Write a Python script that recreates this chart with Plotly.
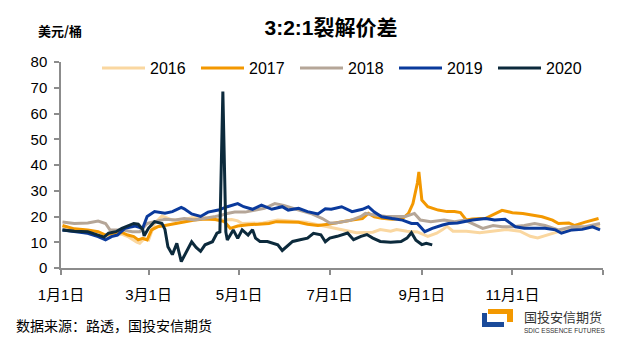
import pandas as pd
import plotly.graph_objects as go

# ---- data (day of year, value in USD/bbl) ----
days_2016 = [1, 9, 18, 25, 30, 35, 41, 45, 51, 53, 56, 59, 63, 68, 75, 81, 88, 97, 102, 108, 115, 119, 122, 129, 136, 146, 156, 165, 173, 178, 188, 199, 210, 215, 222, 226, 233, 240, 247, 253, 257, 260, 264, 273, 282, 291, 300, 309, 316, 321, 327, 336, 345, 354, 363]
vals_2016 = [16, 14.5, 13.5, 12.5, 12.2, 12.8, 13.2, 12.2, 10, 9.6, 11.4, 10.9, 17.3, 20.2, 18.6, 18.6, 19.5, 19.5, 18.8, 18.6, 18.8, 18.3, 17.3, 17.3, 17.5, 18.6, 18.3, 17.8, 16.8, 16.2, 14.8, 13.7, 13.9, 14.9, 14.3, 14.9, 14.3, 14, 12.3, 13.5, 14.9, 16.2, 14.3, 14.3, 13.7, 14.3, 14.9, 14.3, 12.3, 11.7, 12.8, 14.3, 14.9, 15.6, 16.2]

days_2017 = [1, 9, 18, 25, 30, 35, 41, 45, 49, 52, 55, 58, 61, 65, 70, 77, 83, 90, 97, 104, 110, 114, 119, 126, 133, 140, 145, 152, 160, 166, 173, 180, 189, 196, 203, 207, 211, 216, 223, 230, 234, 237, 240, 241, 243, 247, 254, 260, 265, 269, 273, 277, 286, 292, 297, 304, 311, 318, 324, 331, 335, 342, 346, 353, 357, 362]
vals_2017 = [16.5, 15.2, 14.8, 14.1, 12.8, 13.5, 13.8, 12.8, 12.2, 10.9, 11.5, 10.9, 14.8, 16, 16.5, 17.3, 18, 18.6, 19, 18.8, 18, 15.4, 16.3, 16.8, 17, 17.3, 18, 18, 17.8, 17, 16.5, 17, 18, 18.6, 19.2, 21.2, 19.9, 19.3, 18.9, 19.2, 21.2, 25, 33, 37.3, 26.4, 23.8, 22.5, 21.9, 21.9, 21.5, 18.6, 19, 19.3, 21, 22.4, 21.5, 21.2, 20.5, 19.9, 18.6, 17.3, 17.5, 16.5, 17.8, 18.4, 19.2]

days_2018 = [1, 9, 18, 25, 30, 33, 41, 48, 53, 58, 63, 70, 77, 83, 90, 97, 104, 108, 112, 117, 124, 131, 137, 144, 150, 156, 163, 169, 176, 181, 185, 190, 195, 202, 205, 212, 219, 225, 232, 238, 242, 249, 258, 265, 272, 284, 291, 297, 304, 312, 319, 326, 335, 344, 353, 363]
vals_2018 = [17.9, 17.3, 17.5, 18.2, 17.3, 14.8, 14.8, 14.1, 14.1, 17.3, 18, 18.9, 18.6, 19.2, 18.6, 19.2, 20, 20.5, 21.2, 21.7, 21.7, 22.5, 23.2, 25, 24.3, 23.2, 22, 21, 19.2, 17.5, 17.5, 18, 18.5, 20, 21.2, 20.5, 20, 20, 20, 21.2, 18.6, 18, 18.6, 18, 18.6, 15.4, 16.5, 16, 16, 16.5, 17.3, 16.5, 14.8, 16, 16, 17.3]

days_2019 = [1, 9, 18, 25, 30, 34, 38, 43, 50, 55, 58, 63, 70, 75, 81, 83, 88, 94, 99, 106, 112, 119, 123, 129, 135, 142, 149, 153, 160, 166, 173, 178, 182, 189, 196, 203, 207, 211, 216, 223, 230, 236, 240, 245, 250, 257, 261, 267, 277, 286, 292, 299, 306, 312, 319, 326, 333, 337, 344, 351, 358, 363]
vals_2019 = [14.8, 14.1, 13.5, 12.2, 10.9, 12.2, 12.8, 15.4, 16.3, 15.4, 20, 21.9, 21.3, 21.9, 23.5, 23, 21, 20, 21.7, 22.5, 23.8, 25, 23.8, 22.8, 24.4, 22.8, 23.8, 22.5, 23.2, 21.9, 21, 23, 22.8, 23.8, 21.9, 22.8, 23.8, 21.7, 19.9, 19.2, 18.6, 17.3, 17.3, 14.1, 15.4, 16.7, 17.3, 17.5, 18.6, 19.2, 18.6, 18.9, 16, 15.4, 15.4, 15.4, 14.8, 13.5, 14.8, 15, 16, 14.8]

days_2020 = [1, 9, 18, 25, 29, 32, 37, 41, 45, 49, 52, 55, 56, 59, 63, 68, 70, 72, 75, 78, 81, 85, 88, 91, 94, 97, 102, 105, 107, 109, 111, 112, 116, 119, 122, 126, 129, 131, 134, 139, 143, 146, 149, 152, 156, 161, 166, 170, 175, 178, 181, 186, 193, 197, 202, 206, 210, 215, 222, 229, 233, 236, 239, 243, 246, 250]
vals_2020 = [14.8, 14.3, 14.1, 12.8, 12, 13.5, 14.1, 15.4, 16.5, 17.3, 17, 15, 12.5, 15.5, 18, 17.3, 15, 8.3, 5.2, 9.6, 2.5, 7, 10.2, 8, 6.5, 9, 10.2, 13.5, 14, 68.5, 14, 10.9, 14.8, 11.5, 14.8, 12.8, 14.9, 11.6, 10.3, 10.3, 9.7, 9.0, 6.8, 8.4, 10.3, 11, 11.6, 13.5, 12.9, 10.2, 11.6, 12.3, 13.6, 11, 12.3, 13, 11.6, 10.3, 10, 10.3, 11.6, 13.7, 10.8, 9.1, 9.6, 9.0]

series = [
    ("2016", days_2016, vals_2016, "#FAD7A0"),
    ("2017", days_2017, vals_2017, "#F39800"),
    ("2018", days_2018, vals_2018, "#B5A698"),
    ("2019", days_2019, vals_2019, "#0A3A9C"),
    ("2020", days_2020, vals_2020, "#0C2A3C"),
]

tick_dates = ["2001-01-01", "2001-03-01", "2001-05-01", "2001-07-01", "2001-09-01", "2001-11-01", "2002-01-01"]
tick_text = ["1月1日", "3月1日", "5月1日", "7月1日", "9月1日", "11月1日", ""]

BASE = pd.Timestamp("2001-01-01")

W, H = 619, 343
L, R, T, B = 61, 16, 62, 75
PW, PH = W - L - R, H - T - B


def px(x):
    return (x - L) / PW


def py(y):
    return (H - B - y) / PH


fig = go.Figure()
for name, d, v, c in series:
    dates = BASE + pd.to_timedelta(d, unit="D")
    fig.add_trace(go.Scatter(x=dates, y=v, mode="lines", name=name,
                             line=dict(color=c, width=3)))

FONT = "Liberation Sans, Arial, Noto Sans CJK SC, sans-serif"
CJK = "Noto Sans CJK SC, sans-serif"

fig.update_layout(
    width=W, height=H,
    margin=dict(l=L, r=R, t=T, b=B),
    paper_bgcolor="white", plot_bgcolor="white",
    font=dict(family=FONT, size=15, color="#000000"),
    title=dict(text="<b>3:2:1裂解价差</b>", x=331 / W, y=1 - 28 / H,
               xanchor="center", yanchor="middle",
               font=dict(family="Liberation Sans, Noto Sans CJK SC", size=21, color="#000")),
    showlegend=True,
    legend=dict(orientation="h", x=px(97), y=py(68), xanchor="left", yanchor="middle",
                font=dict(size=16, family=FONT), bgcolor="rgba(0,0,0,0)",
                itemwidth=43, entrywidth=41, tracegroupgap=0),
    xaxis=dict(type="date", range=["2001-01-01", "2002-01-01"],
               tickmode="array", tickvals=tick_dates, ticktext=tick_text,
               showgrid=False, zeroline=False, showline=True, linecolor="#8C8C8C", linewidth=1.5,
               ticks="outside", ticklen=5, tickcolor="#8C8C8C", tickwidth=1.5,
               ticklabelstandoff=7, tickfont=dict(family=FONT, size=15)),
    yaxis=dict(range=[0, 80], dtick=10, showgrid=False, zeroline=False,
               showline=True, linecolor="#8C8C8C", linewidth=1.5,
               ticks="outside", ticklen=5, tickcolor="#8C8C8C", tickwidth=1.5,
               ticklabelstandoff=4, tickfont=dict(family=FONT, size=15)),
)

fig.add_annotation(text="<b>美元/桶</b>", x=px(60), y=py(30), xref="paper", yref="paper",
                   showarrow=False, xanchor="center", yanchor="middle",
                   font=dict(family=CJK, size=13, color="#000"))
fig.add_annotation(text="数据来源：路透，国投安信期货", x=px(14), y=py(325), xref="paper", yref="paper",
                   showarrow=False, xanchor="left", yanchor="middle",
                   font=dict(family=CJK, size=14, color="#000"))
fig.add_annotation(text="国投安信期货", x=px(522), y=py(316), xref="paper", yref="paper",
                   showarrow=False, xanchor="left", yanchor="middle",
                   font=dict(family=CJK, size=13, color="#333"))
fig.add_annotation(text="SDIC ESSENCE FUTURES", x=px(522), y=py(330), xref="paper", yref="paper",
                   showarrow=False, xanchor="left", yanchor="middle",
                   font=dict(family="Liberation Sans Narrow, Liberation Sans", size=6.5, color="#333"))

# logo blocks
logo = [
    (482, 313, 487, 327, "#1A4A9A"),
    (482, 322, 504, 327, "#1A4A9A"),
    (488, 309, 513, 314, "#F39800"),
    (507, 309, 513, 322, "#F39800"),
]
for x0, y0, x1, y1, c in logo:
    fig.add_shape(type="rect", xref="paper", yref="paper",
                  x0=px(x0), x1=px(x1), y0=py(y1), y1=py(y0),
                  fillcolor=c, line=dict(width=0))

fig.write_html("out.html")
